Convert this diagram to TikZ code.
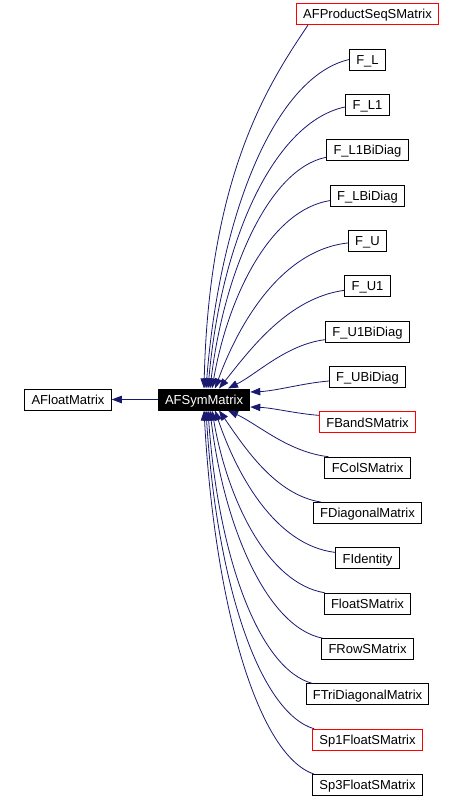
\documentclass[tikz,border=0pt]{standalone}
\usepackage{fontspec}
\setmainfont{Liberation Sans}
\usetikzlibrary{arrows.meta,calc}
\definecolor{edgeblue}{RGB}{25,25,112}
\tikzset{
  box/.style={draw=black, line width=1pt, fill=white, minimum height=21pt, inner xsep=6.8pt, inner ysep=0pt,
    text height=9.3pt, text depth=0pt, font=\fontsize{13pt}{15pt}\selectfont},
  redbox/.style={box, draw=red},
  mainbox/.style={box, fill=black, text=white},
  edge/.style={draw=edgeblue, line width=0.8pt, -{Triangle[length=10pt,width=7.5pt]}}
}
\newcommand\famedge[6]{\draw[edge] let \p1=(#1), \p2=(#2) in (\p1) .. controls ({\x1+#3*(\x2-\x1)},{\y1+#4*(\y2-\y1)}) and ({\x2+#5*(\x1-\x2)},{\y2+#6*(\y1-\y2)}) .. (\p2);}
\begin{document}
\begin{tikzpicture}[x=1pt,y=-1pt]
\useasboundingbox (0,0) rectangle (463,798);
\node[box] (base) at (68,399.5) {AFloatMatrix};
\node[mainbox] (c) at (204,399.5) {AFSymMatrix};
\node[redbox] (n0) at (367.5,14.2) {AFProductSeqSMatrix};
\node[box] (n1) at (367.5,59.55) {F\_L};
\node[box] (n2) at (367.5,104.9) {F\_L1};
\node[box] (n3) at (367.5,150.25) {F\_L1BiDiag};
\node[box] (n4) at (367.5,195.6) {F\_LBiDiag};
\node[box] (n5) at (367.5,240.95) {F\_U};
\node[box] (n6) at (367.5,286.3) {F\_U1};
\node[box] (n7) at (367.5,331.65) {F\_U1BiDiag};
\node[box] (n8) at (367.5,377.0) {F\_UBiDiag};
\node[redbox] (n9) at (367.5,422.35) {FBandSMatrix};
\node[box] (n10) at (367.5,467.7) {FColSMatrix};
\node[box] (n11) at (367.5,513.05) {FDiagonalMatrix};
\node[box] (n12) at (367.5,558.4) {FIdentity};
\node[box] (n13) at (367.5,603.75) {FloatSMatrix};
\node[box] (n14) at (367.5,649.1) {FRowSMatrix};
\node[box] (n15) at (367.5,694.45) {FTriDiagonalMatrix};
\node[redbox] (n16) at (367.5,739.8) {Sp1FloatSMatrix};
\node[box] (n17) at (367.5,785.15) {Sp3FloatSMatrix};
\draw[edge] (c) -- (base);
\famedge{[xshift=12pt]n0.south west}{c.north}{0.35}{0.15}{0.05}{0.6}
\famedge{n1.west}{[xshift=2pt]c.north}{0.5}{0.05}{0.1}{0.55}
\famedge{[yshift=-2pt]n2.west}{[xshift=4pt]c.north}{0.5}{0.05}{0.1}{0.55}
\famedge{[yshift=-7pt]n3.west}{[xshift=6pt]c.north}{0.5}{0.05}{0.12}{0.5}
\famedge{[yshift=-5pt]n4.west}{[xshift=8pt]c.north}{0.5}{0.05}{0.14}{0.5}
\famedge{[yshift=-2pt]n5.west}{[xshift=11pt]c.north}{0.5}{0.05}{0.18}{0.45}
\famedge{[yshift=-4pt]n6.west}{[xshift=15pt]c.north}{0.45}{0.08}{0.25}{0.4}
\famedge{[yshift=-8pt]n7.west}{[xshift=24pt]c.north}{0.4}{0.1}{0.3}{0.3}
\famedge{[yshift=-4pt]n8.west}{[yshift=7.5pt]c.east}{0.33}{0.2}{0.33}{0.1}
\famedge{[yshift=7pt]n9.west}{[yshift=-7.5pt]c.east}{0.33}{0.2}{0.33}{0.1}
\famedge{[xshift=4pt]n10.north west}{[xshift=24pt]c.south}{0.4}{0.1}{0.3}{0.3}
\famedge{[xshift=8pt]n11.north west}{[xshift=15pt]c.south}{0.45}{0.08}{0.25}{0.4}
\famedge{[yshift=6pt]n12.west}{[xshift=11pt]c.south}{0.5}{0.05}{0.18}{0.45}
\famedge{[xshift=1pt]n13.north west}{[xshift=8pt]c.south}{0.5}{0.05}{0.14}{0.5}
\famedge{[xshift=1pt]n14.north west}{[xshift=6pt]c.south}{0.5}{0.05}{0.12}{0.5}
\famedge{[xshift=7pt]n15.north west}{[xshift=4pt]c.south}{0.5}{0.05}{0.1}{0.55}
\famedge{[xshift=2pt]n16.north west}{[xshift=2pt]c.south}{0.5}{0.05}{0.1}{0.55}
\famedge{[xshift=2pt]n17.north west}{c.south}{0.5}{0.05}{0.1}{0.55}
\end{tikzpicture}
\end{document}
